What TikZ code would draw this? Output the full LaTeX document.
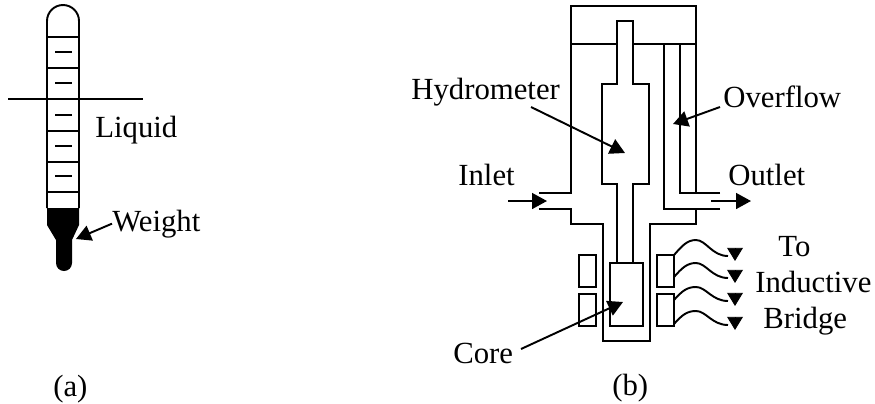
\documentclass[tikz,border=0pt]{standalone}
\usepackage{fontspec}
\setmainfont{Liberation Serif}
\usetikzlibrary{arrows.meta}
\tikzset{
  every picture/.style={>={Triangle[length=8.5pt,width=9pt]}, font=\fontsize{17.5}{20}\selectfont},
  wall/.style={line width=1.1pt, line join=miter},
  thinwall/.style={line width=0.9pt},
  lead/.style={->, line width=1.1pt},
  wire/.style={line width=1.1pt},
  wiretip/.style={-{Triangle[length=7.5pt,width=9pt]}, line width=0.5pt},
  lbl/.style={inner sep=0pt, anchor=base west},
}
\newcommand{\leadwire}[2]{%
  \begin{scope}[shift={(674,#1)}]
    \draw[wire] (0,0) .. controls (8,-9) and (13,-#2) .. (22,-#2) .. controls (32,-#2) and (38,1) .. (54,1);
    \draw[wiretip] (61,-7) -- (61,6);
  \end{scope}
}

\begin{document}
\begin{tikzpicture}[x=0.02cm,y=-0.02cm]
  \useasboundingbox (0,0) rectangle (875,403);
  % hydrometer tube on its own
  \fill (47,208) -- (79,208) -- (79,225) -- (72,240) -- (72,263) arc (0:180:8) -- (56,240) -- (47,225) -- cycle;
  \draw[wall] (47,208) -- (47,21) arc (180:360:16) -- (79,208);
  \foreach \y in {37,68,131,162,192}{
    \draw[thinwall] (47,\y) -- (79,\y);
  }
  \foreach \y in {52,83,115,146,176}{
    \draw[thinwall] (55,\y) -- (72,\y);
  }
  \draw[wall] (8,99) -- (143,99);
  \node[lbl] (liquid) at (95,137) {Liquid};
  \node[lbl] (weight) at (112,231) {Weight};
  \coordinate (weighttip) at (76,239);
  \draw[lead] (weight.west) -- (weighttip);
  \node[lbl] (a) at (53,396) {(a)};

  % cell body
  \draw[wall] (720,193) -- (680,193) -- (680,44);
  \draw[wall] (696,193) -- (696,6) -- (571,6) -- (571,193) -- (539,193);
  \draw[wall] (571,44) -- (696,44);
  \draw[wall] (539,209) -- (571,209) -- (571,224) -- (603,224) -- (603,341) -- (650,341) -- (650,224) -- (696,224) -- (696,209);
  \draw[wall] (720,209) -- (664,209) -- (664,44);
  % float and core
  \draw[wall,fill=white] (617,263) -- (617,184) -- (602,184) -- (602,84) -- (617,84) -- (617,21) -- (633,21) -- (633,84) -- (649,84) -- (649,184) -- (633,184) -- (633,263);
  \draw[wall] (610,263) rectangle (643,326);
  % coils
  \foreach \x in {579,657}{
    \draw[wall] (\x,255) rectangle ++(17,32);
    \draw[wall] (\x,294) rectangle ++(17,32);
  }
  \leadwire{255}{15}
  \leadwire{277}{14}
  \leadwire{300}{13}
  \leadwire{324}{13}

  \node[lbl] (hydrometer) at (411,99) {Hydrometer};
  \node[lbl] (overflow) at (723,107) {Overflow};
  \node[lbl] (inlet) at (458,185) {Inlet};
  \node[lbl] (outlet) at (728,185) {Outlet};
  \node[lbl] (core) at (453,363) {Core};
  \node[lbl] (to) at (778,256) {To};
  \node[lbl] (inductive) at (755,292) {Inductive};
  \node[lbl] (bridge) at (763,328) {Bridge};
  \node[lbl] (b) at (612,395) {(b)};

  \coordinate (hydrometertail) at (531,107);
  \coordinate (hydrometertip) at (625,153);
  \coordinate (overflowtail) at (720,107);
  \coordinate (overflowtip) at (673,124);
  \coordinate (inlettail) at (508,201);
  \coordinate (inlettip) at (547,201);
  \coordinate (outlettail) at (711,201);
  \coordinate (outlettip) at (751,201);
  \coordinate (coretail) at (521,349);
  \coordinate (coretip) at (623,302);
  \foreach \p in {hydrometer,overflow,inlet,outlet,core}{
    \draw[lead] (\p tail) -- (\p tip);
  }
\end{tikzpicture}
\end{document}
